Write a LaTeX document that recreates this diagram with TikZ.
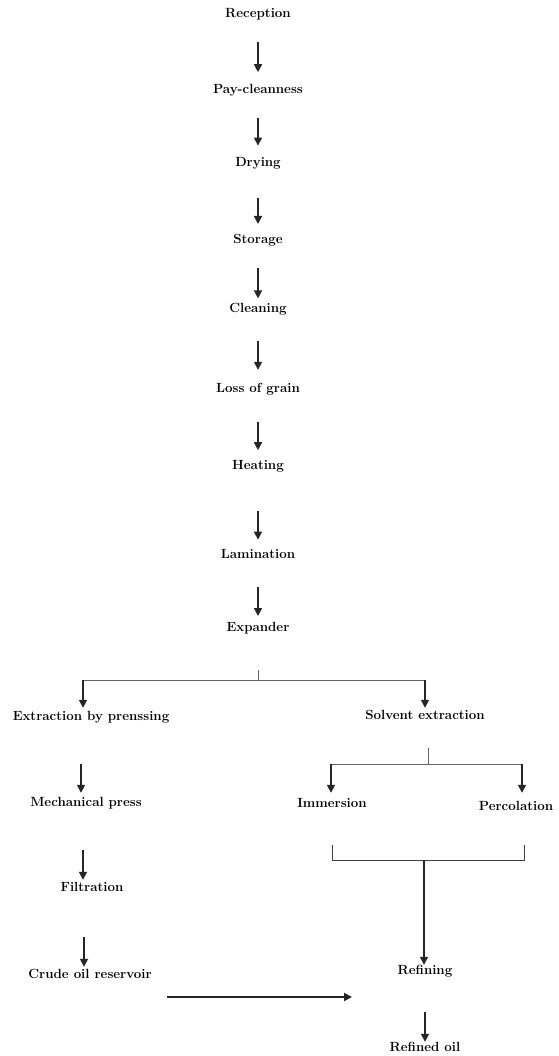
\documentclass[tikz,border=0pt]{standalone}
\usetikzlibrary{arrows.meta,positioning,calc}
\tikzset{
  >={Triangle[length=8pt,width=8pt]},
  stage/.style={inner sep=0pt, text height=9pt, text depth=3pt,
    font=\fontsize{13.3}{16}\selectfont\bfseries},
  flow/.style={->, line width=1.6pt, black!85},
  branch/.style={line width=0.8pt, black!60},
  bracket/.style={line width=0.9pt, black!75},
}

\begin{document}
\begin{tikzpicture}[x=1pt,y=-1pt]
  \useasboundingbox (0,0) rectangle (558,1056);

  % main line
  \node [stage] (recep) at (258,15) {Reception};
  \node [stage,
    below=63pt of recep
  ] (pay) {Pay-cleanness};
  \node [stage,
    below=61pt of pay
  ] (drying) {Drying};
  \node [stage,
    below=64pt of drying
  ] (storage) {Storage};
  \node [stage,
    below=57pt of storage
  ] (cleaning) {Cleaning};
  \node [stage,
    below=67pt of cleaning
  ] (loss) {Loss of grain};
  \node [stage,
    below=65pt of loss
  ] (heating) {Heating};
  \node [stage,
    below=77pt of heating
  ] (lamin) {Lamination};
  \node [stage,
    below=60pt of lamin
  ] (expander) {Expander};

  % the two ways of extraction
  \node [stage] (extract) at (91,717) {Extraction by prenssing};
  \node [stage] (solvent) at (425,716) {Solvent extraction};
  \node [stage] (press) at (86,803) {Mechanical press};
  \node [stage] (filt) at (92,888) {Filtration};
  \node [stage] (crude) at (90,975) {Crude oil reservoir};
  \node [stage] (immers) at (332,804) {Immersion};
  \node [stage] (percol) at (516,807) {Percolation};
  \node [stage] (refining) at (425,971) {Refining};
  \node [stage] (refined) at (425,1048) {Refined oil};

  \foreach \a/\b/\s/\e in {recep/pay/21/12, pay/drying/21/12,
      drying/storage/28/10, storage/cleaning/22/5, cleaning/loss/25/13,
      loss/heating/27/10, heating/lamin/38/10, lamin/expander/25/6}
    \draw[flow, shorten <=\s pt, shorten >=\e pt]
      (\a.south) -- (\a.south |- \b.north);

  \foreach \a/\b/\dx/\s/\e in {extract/press/-10/41/4,
      press/filt/-3/41/2, filt/crude/-8/43/2}
    \draw[flow, shorten <=\s pt, shorten >=\e pt]
      ([xshift=\dx pt]\a.south) -- ([xshift=\dx pt]\a.south |- \b.north);

  % first fork
  \coordinate (fork1) at (258,680);
  \coordinate (fork1L) at (83,680);
  \coordinate (fork1R) at (425,680);
  \draw[branch, shorten <=36pt] (expander.south) -- (fork1);
  \draw[branch] (fork1L) -- (fork1R);
  \draw[flow, shorten >=3pt] (fork1L) -- (fork1L |- extract.north);
  \draw[flow, shorten >=2pt] (fork1R) -- (solvent.north);

  % second fork
  \coordinate (fork2) at (428,764);
  \coordinate (fork2L) at (331,764);
  \coordinate (fork2R) at (522,764);
  \draw[branch, shorten <=26pt] (solvent.south -| fork2) -- (fork2);
  \draw[branch] (fork2L) -- (fork2R);
  \draw[flow, shorten >=5pt] (fork2L) -- (fork2L |- immers.north);
  \draw[flow, shorten >=8pt] (fork2R) -- (fork2R |- percol.north);

  % join to refining
  \coordinate (joinL) at (332,860);
  \coordinate (joinR) at (524,860);
  \coordinate (join) at (424,860);
  \draw[bracket, shorten <=35pt, shorten >=32pt]
    (immers.south -| joinL) -- (joinL) -- (joinR) -- (percol.south -| joinR);
  \draw[flow] (join) -- (join |- refining.north);
  \draw[flow, shorten <=35pt] (refining.south) -- (refined.north);

  \draw[flow, line width=1.8pt]
    ([xshift=15pt,yshift=-22pt]crude.east) -- ([xshift=-45.5pt,yshift=-26pt]refining.west);
\end{tikzpicture}
\end{document}
